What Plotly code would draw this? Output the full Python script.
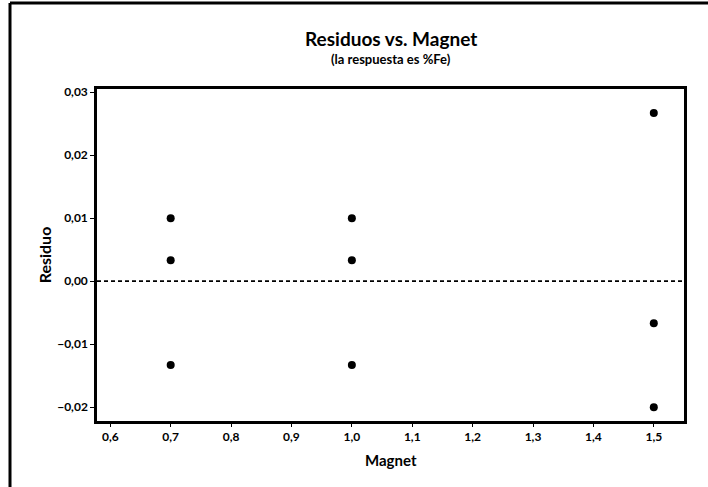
import plotly.graph_objects as go

# Residuals grouped by Magnet setting
magnet = [0.7, 0.7, 0.7, 1.0, 1.0, 1.0, 1.5, 1.5, 1.5]
residuo = [0.0100, 0.0033, -0.0133, 0.0100, 0.0033, -0.0133, 0.0267, -0.0067, -0.0200]

x_ticks = [0.6, 0.7, 0.8, 0.9, 1.0, 1.1, 1.2, 1.3, 1.4, 1.5]
y_ticks = [-0.02, -0.01, 0.00, 0.01, 0.02, 0.03]

W, H = 708, 487
L, R, T, B = 97, 24, 89, 66
pw, ph = W - L - R, H - T - B

def px(x):
    return (x - L) / pw

def py(y):
    return (H - B - y) / ph

FONT = "Lato"

fig = go.Figure()
fig.add_trace(go.Scatter(
    x=magnet, y=residuo, mode="markers",
    marker=dict(color="black", size=8),
    showlegend=False,
))

# reference line at zero
fig.add_hline(y=0, line=dict(color="black", width=1.6, dash="4px,3px"))

shapes = [
    # outer frame: left and top edges
    dict(type="line", xref="paper", yref="paper", x0=px(10), x1=px(10), y0=py(3), y1=py(487),
         line=dict(color="black", width=3)),
    dict(type="line", xref="paper", yref="paper", x0=px(10), x1=px(708), y0=py(3), y1=py(3),
         line=dict(color="black", width=3)),
]
for s in shapes:
    fig.add_shape(**s)

fig.add_annotation(text="<b>Residuos vs. Magnet</b>", xref="paper", yref="paper",
                   x=0.5, y=py(38), yanchor="middle", showarrow=False,
                   font=dict(family=FONT, size=19, color="black"))
fig.add_annotation(text="<b>(la respuesta es %Fe)</b>", xref="paper", yref="paper",
                   x=0.5, y=py(59), yanchor="middle", showarrow=False,
                   font=dict(family=FONT, size=13, color="black"))
# x-axis title
fig.add_annotation(text="<b>Magnet</b>", xref="paper", yref="paper",
                   x=0.5, y=py(460), yanchor="middle", showarrow=False,
                   font=dict(family=FONT, size=15, color="black"))

fig.update_layout(
    width=W, height=H,
    margin=dict(l=L, r=R, t=T, b=B),
    paper_bgcolor="white", plot_bgcolor="white",
    separators=",.",
    font=dict(family=FONT, color="black"),
    xaxis=dict(
        range=[0.578, 1.55], tickvals=x_ticks, tickformat=".1f",
        showgrid=False, zeroline=False,
        showline=True, linecolor="black", linewidth=2.5, mirror=True,
        ticks="outside", ticklen=3, tickcolor="black",
        tickfont=dict(family=FONT, size=12, color="black", weight="bold"),
    ),
    yaxis=dict(
        range=[-0.0222, 0.0305], tickvals=y_ticks, tickformat=".2f",
        showgrid=False, zeroline=False,
        showline=True, linecolor="black", linewidth=2.5, mirror=True,
        ticks="outside", ticklen=4, tickcolor="black",
        tickfont=dict(family=FONT, size=12, color="black", weight="bold"),
        title=dict(text="<b>Residuo</b>", font=dict(family=FONT, size=16), standoff=2),
    ),
)

fig.write_html("out.html")
